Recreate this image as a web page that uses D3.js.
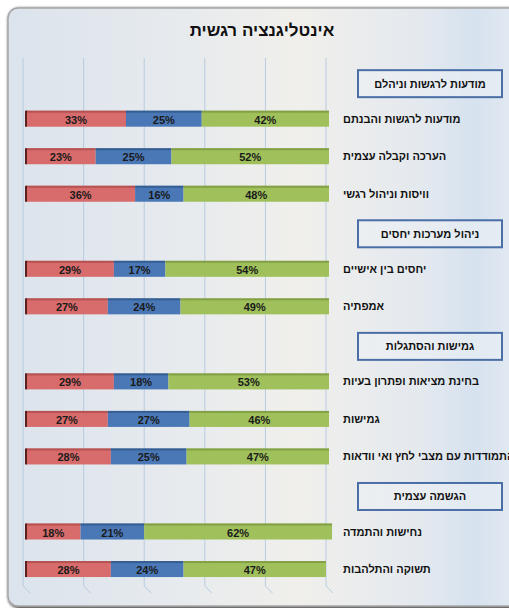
<!DOCTYPE html>
<html><head><meta charset="utf-8">
<script src="https://cdn.jsdelivr.net/npm/d3@7"></script>
<style>html,body{margin:0;padding:0;background:#fff;}svg{display:block;}</style>
</head><body>
<script>
const title = "אינטליגנציה רגשית";
const categories = ["מודעות לרגשות וניהלם","מודעות לרגשות והבנתם","הערכה וקבלה עצמית","וויסות וניהול רגשי","ניהול מערכות יחסים","יחסים בין אישיים","אמפתיה","גמישות והסתגלות","בחינת מציאות ופתרון בעיות","גמישות","התמודדות עם מצבי לחץ ואי וודאות","הגשמה עצמית","נחישות והתמדה","תשוקה והתלהבות"];
const isHeader = [1,0,0,0,1,0,0,1,0,0,0,1,0,0];
const redVals   = [null,33,23,36,null,29,27,null,29,27,28,null,18,28];
const blueVals  = [null,25,25,16,null,17,24,null,18,27,25,null,21,24];
const greenVals = [null,42,52,48,null,54,49,null,53,46,47,null,62,47];
const ticks = [0,20,40,60,80,100];
const seriesColors = ["#d86b6b","#4a78b6","#9fc05a"];
const seriesTop = ["#a94a4a","#2f5585","#7a9640"];

const W=509,H=608;
const svg=d3.select("body").append("svg").attr("width",W).attr("height",H);
const defs=svg.append("defs");
const g=defs.append("linearGradient").attr("id","bg").attr("x1","0").attr("x2","1").attr("y1","0").attr("y2","0");
[[0,"#dbe3ec"],[0.3,"#e6eaee"],[0.55,"#f0efeb"],[0.78,"#e4e9ef"],[0.88,"#d6e2ef"],[1,"#e9edf2"]].forEach(s=>g.append("stop").attr("offset",s[0]).attr("stop-color",s[1]));
const f=defs.append("filter").attr("id","sh").attr("x","-5%").attr("y","-5%").attr("width","110%").attr("height","110%");
f.append("feGaussianBlur").attr("in","SourceAlpha").attr("stdDeviation",1.5);
f.append("feOffset").attr("dx",1).attr("dy",1).attr("result","b");
const fm=f.append("feMerge");fm.append("feMergeNode").attr("in","b");fm.append("feMergeNode").attr("in","SourceGraphic");

svg.append("rect").attr("x",8).attr("y",8).attr("width",W+20).attr("height",598).attr("rx",10)
  .attr("fill","url(#bg)").attr("stroke","#a6a6a6").attr("stroke-width",1.5).attr("filter","url(#sh)");

svg.append("text").attr("x",262).attr("y",36).attr("text-anchor","middle").attr("direction","rtl")
  .attr("font-family","Liberation Sans, Arial, sans-serif").attr("font-weight","bold").attr("font-size",17)
  .attr("fill","#111").text(title);

const x=d3.scaleLinear().domain([0,100]).range([23,326]);
const y=d3.scaleBand().domain(categories.map((c,i)=>i)).range([62.4,587.8]);
const dx=3;

// gridlines
const gl=svg.append("g");
ticks.forEach(t=>{
  gl.append("line").attr("x1",x(t)).attr("x2",x(t)).attr("y1",58).attr("y2",586).attr("stroke","#b7cbe0").attr("stroke-width",1);
  gl.append("line").attr("x1",x(t)).attr("x2",x(t)+7).attr("y1",586).attr("y2",593).attr("stroke","#b7cbe0").attr("stroke-width",1);
});

const bh=16;
const bars=svg.append("g");
categories.forEach((c,i)=>{
  if(isHeader[i]) return;
  const vals=[redVals[i],blueVals[i],greenVals[i]];
  const yc=y(i)+y.bandwidth()/2;
  const y0=yc-bh/2;
  let acc=0;
  vals.forEach((v,k)=>{
    const x0=x(acc)+dx,x1=x(acc+v)+dx;
    bars.append("rect").attr("x",x0).attr("y",y0).attr("width",x1-x0).attr("height",bh).attr("fill",seriesColors[k]);
    bars.append("rect").attr("x",x0).attr("y",y0).attr("width",x1-x0).attr("height",2).attr("fill",seriesTop[k]).attr("opacity",0.75);
    bars.append("text").attr("x",(x0+x1)/2).attr("y",yc+5).attr("text-anchor","middle")
      .attr("font-family","Liberation Sans, Arial, sans-serif").attr("font-weight","bold").attr("font-size",11)
      .attr("fill","#1a1a1a").text(v+"%");
    acc+=v;
  });
  bars.append("rect").attr("x",x(0)+dx-1).attr("y",y0).attr("width",2).attr("height",bh).attr("fill","#5a1f1f");
});

// labels
const lab=svg.append("g").attr("font-family","Liberation Sans, Arial, sans-serif").attr("font-weight","bold").attr("font-size",11).attr("fill","#111");
categories.forEach((c,i)=>{
  const yc=y(i)+y.bandwidth()/2;
  if(isHeader[i]){
    const by=yc+2.5;
    lab.append("rect").attr("x",358).attr("y",by-13.5).attr("width",144).attr("height",27)
      .attr("fill","#eef1f5").attr("fill-opacity",0.5).attr("stroke","#4a6ea6").attr("stroke-width",2);
    lab.append("text").attr("x",430).attr("y",by+4).attr("text-anchor","middle").attr("direction","rtl").text(c);
  } else {
    lab.append("text").attr("x",343).attr("y",yc+4).attr("text-anchor","end").attr("direction","rtl").text(c);
  }
});
</script>
</body></html>
